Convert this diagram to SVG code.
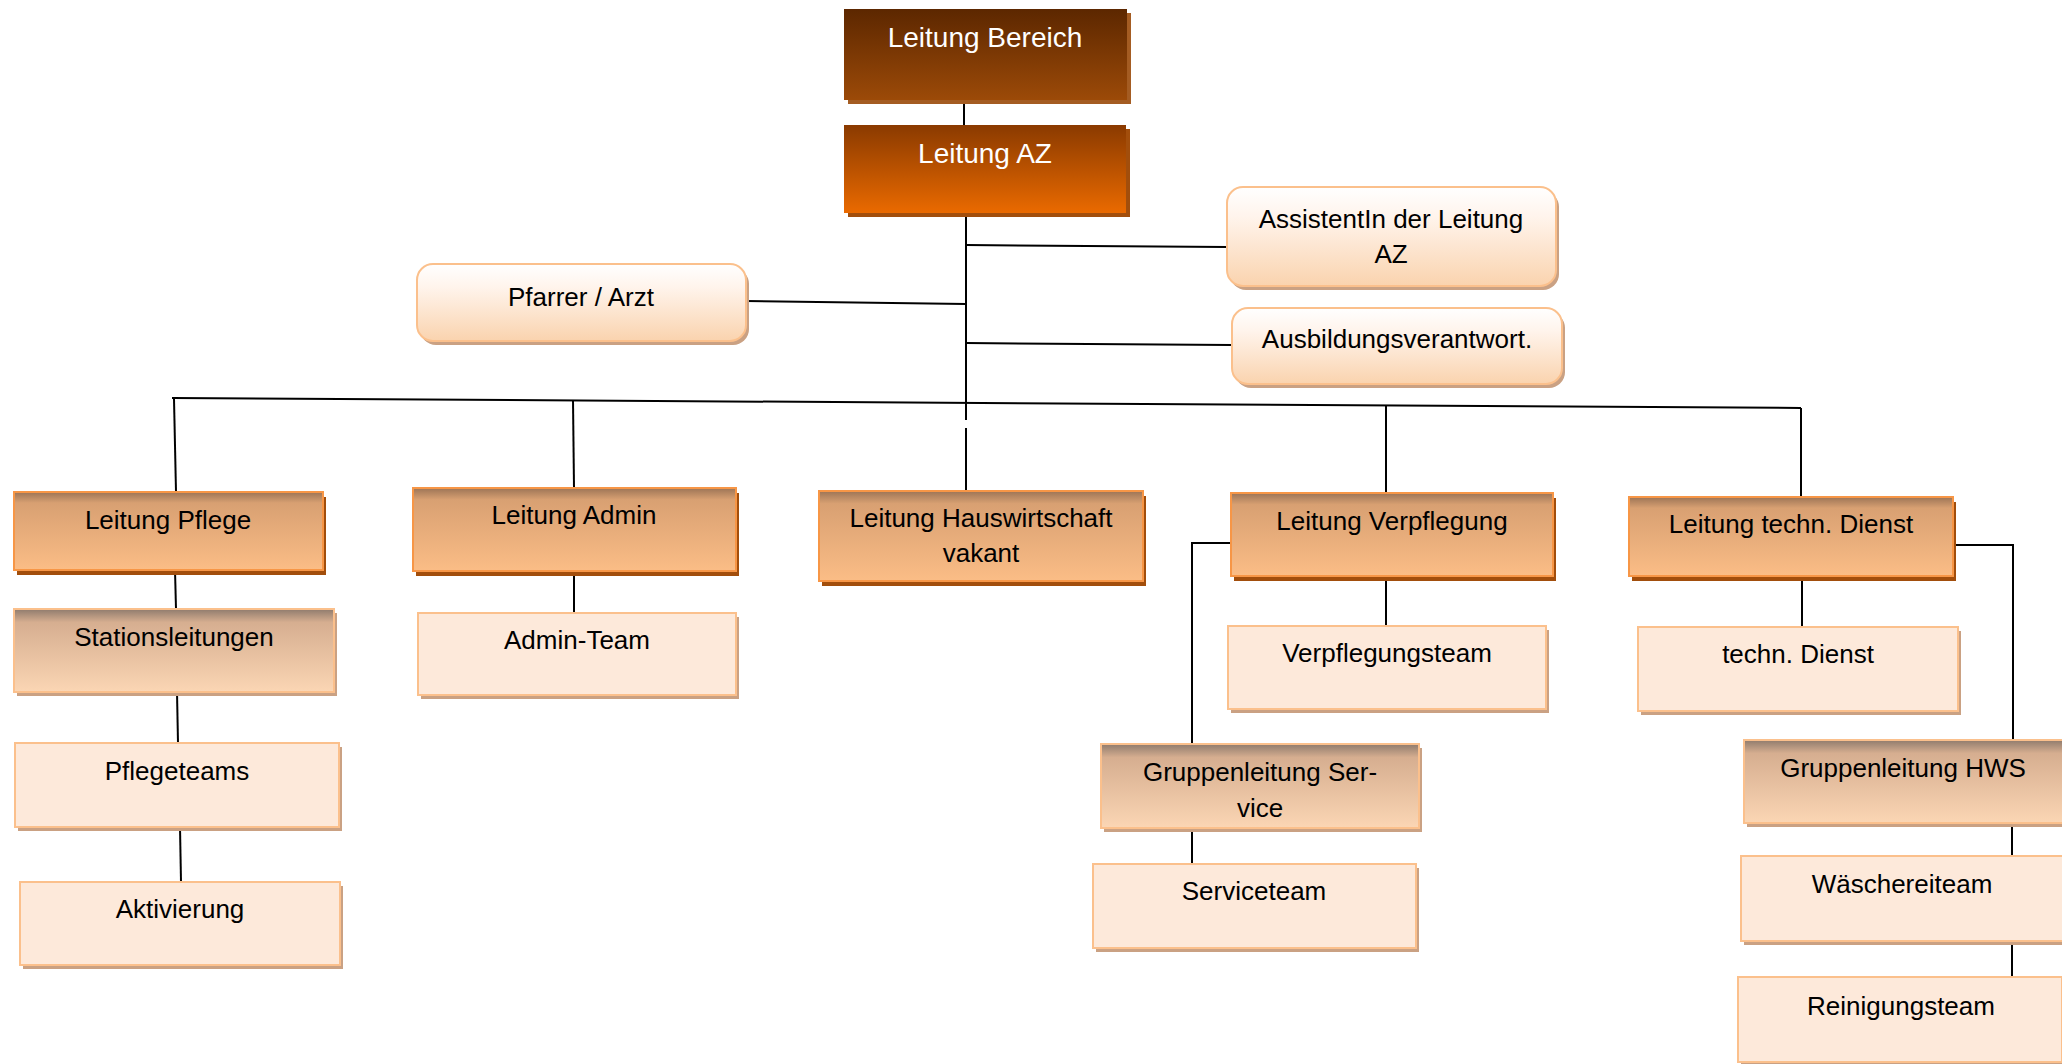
<svg xmlns="http://www.w3.org/2000/svg" width="2062" height="1064" viewBox="0 0 2062 1064">
<defs>
<linearGradient id="gTop1" x1="0" y1="0" x2="0" y2="1"><stop offset="0" stop-color="#5c2700"/><stop offset="1" stop-color="#9c4a08"/></linearGradient>
<linearGradient id="gTop2" x1="0" y1="0" x2="0" y2="1"><stop offset="0" stop-color="#8a3a00"/><stop offset="1" stop-color="#ea6a00"/></linearGradient>
<linearGradient id="gL2" x1="0" y1="0" x2="0" y2="1"><stop offset="0" stop-color="#9c7456"/><stop offset="0.14" stop-color="#d8a072"/><stop offset="1" stop-color="#fbbd86"/></linearGradient>
<linearGradient id="gL3" x1="0" y1="0" x2="0" y2="1"><stop offset="0" stop-color="#8f7b6d"/><stop offset="0.16" stop-color="#d6ae90"/><stop offset="1" stop-color="#fbd6b4"/></linearGradient>
<linearGradient id="gRnd" x1="0" y1="0" x2="0" y2="1"><stop offset="0" stop-color="#ffffff"/><stop offset="0.3" stop-color="#fff4ec"/><stop offset="1" stop-color="#fad3ae"/></linearGradient>
</defs>
<style>
text{font-family:"Liberation Sans",Arial,sans-serif;font-size:26px;fill:#000;text-anchor:middle}
.tw{fill:#fff;font-size:28px}
.sh1{fill:#a45c22}
.sh2{fill:#a24e0c}
.sh3{fill:#caa183}
.top1{fill:url(#gTop1)}
.top2{fill:url(#gTop2)}
.l2{fill:url(#gL2);stroke:#f79646;stroke-width:2}
.l3{fill:url(#gL3);stroke:#fbc08c;stroke-width:2}
.lt{fill:#fde9da;stroke:#fbc08c;stroke-width:2}
.rnd{fill:url(#gRnd);stroke:#fbc08c;stroke-width:2}
.c{stroke:#000;stroke-width:2;fill:none}
</style>
<rect width="2062" height="1064" fill="#fff"/>
<g id="connectors">
<line class="c" x1="964" y1="100" x2="964" y2="125"/>
<line class="c" x1="966" y1="213" x2="966" y2="420"/>
<line class="c" x1="966" y1="428" x2="966" y2="491"/>
<line class="c" x1="966" y1="245" x2="1227" y2="247"/>
<line class="c" x1="966" y1="343" x2="1232" y2="345"/>
<line class="c" x1="746" y1="301" x2="966" y2="304"/>
<line class="c" x1="172" y1="398" x2="1801" y2="408"/>
<line class="c" x1="174" y1="399" x2="176" y2="492"/>
<line class="c" x1="573" y1="400" x2="574" y2="488"/>
<line class="c" x1="1386" y1="406" x2="1386" y2="493"/>
<line class="c" x1="1801" y1="408" x2="1801" y2="497"/>
<line class="c" x1="175" y1="570" x2="176" y2="609"/>
<line class="c" x1="177" y1="692" x2="178" y2="743"/>
<line class="c" x1="180" y1="827" x2="181" y2="882"/>
<line class="c" x1="574" y1="571" x2="574" y2="613"/>
<line class="c" x1="1386" y1="576" x2="1386" y2="626"/>
<polyline class="c" points="1231,543 1192,543 1192,744"/>
<line class="c" x1="1192" y1="828" x2="1192" y2="864"/>
<line class="c" x1="1802" y1="576" x2="1802" y2="627"/>
<polyline class="c" points="1953,545 2013,545 2013,740"/>
<line class="c" x1="2012" y1="823" x2="2012" y2="856"/>
<line class="c" x1="2012" y1="941" x2="2012" y2="977"/>
</g>
<g id="n-bereich"><rect class="sh1" x="848" y="13" width="283" height="91"/><rect class="top1" x="844" y="9" width="283" height="91"/><text class="tw" x="985" y="47">Leitung Bereich</text></g>
<g id="n-az"><rect class="sh2" x="848" y="129" width="282" height="88"/><rect class="top2" x="844" y="125" width="282" height="88"/><text class="tw" x="985" y="163">Leitung AZ</text></g>
<g id="n-assist"><rect class="sh3" x="1230" y="191" width="329" height="99" rx="16"/><rect class="rnd" x="1227" y="187" width="329" height="99" rx="16"/><text x="1391" y="228">AssistentIn der Leitung</text><text x="1391" y="263">AZ</text></g>
<g id="n-ausbildung"><rect class="sh3" x="1235" y="312" width="330" height="76" rx="16"/><rect class="rnd" x="1232" y="308" width="330" height="76" rx="16"/><text x="1397" y="348">Ausbildungsverantwort.</text></g>
<g id="n-pfarrer"><rect class="sh3" x="420" y="268" width="329" height="77" rx="16"/><rect class="rnd" x="417" y="264" width="329" height="77" rx="16"/><text x="581" y="306">Pfarrer / Arzt</text></g>
<g id="n-pflege"><rect class="sh2" x="17" y="497" width="309" height="78"/><rect class="l2" x="14" y="492" width="309" height="78"/><text x="168" y="529">Leitung Pflege</text></g>
<g id="n-station"><rect class="sh3" x="17" y="613" width="320" height="83"/><rect class="l3" x="14" y="609" width="320" height="83"/><text x="174" y="646">Stationsleitungen</text></g>
<g id="n-pflegeteams"><rect class="sh3" x="18" y="747" width="324" height="84"/><rect class="lt" x="15" y="743" width="324" height="84"/><text x="177" y="780">Pflegeteams</text></g>
<g id="n-aktivierung"><rect class="sh3" x="23" y="886" width="320" height="83"/><rect class="lt" x="20" y="882" width="320" height="83"/><text x="180" y="918">Aktivierung</text></g>
<g id="n-admin"><rect class="sh2" x="416" y="493" width="323" height="83"/><rect class="l2" x="413" y="488" width="323" height="83"/><text x="574" y="524">Leitung Admin</text></g>
<g id="n-adminteam"><rect class="sh3" x="421" y="617" width="318" height="82"/><rect class="lt" x="418" y="613" width="318" height="82"/><text x="577" y="649">Admin-Team</text></g>
<g id="n-hausw"><rect class="sh2" x="822" y="496" width="324" height="90"/><rect class="l2" x="819" y="491" width="324" height="90"/><text x="981" y="527">Leitung Hauswirtschaft</text><text x="981" y="562">vakant</text></g>
<g id="n-verpfl"><rect class="sh2" x="1234" y="498" width="322" height="83"/><rect class="l2" x="1231" y="493" width="322" height="83"/><text x="1392" y="530">Leitung Verpflegung</text></g>
<g id="n-verpflteam"><rect class="sh3" x="1231" y="630" width="318" height="83"/><rect class="lt" x="1228" y="626" width="318" height="83"/><text x="1387" y="662">Verpflegungsteam</text></g>
<g id="n-grservice"><rect class="sh3" x="1104" y="748" width="318" height="84"/><rect class="l3" x="1101" y="744" width="318" height="84"/><text x="1260" y="781">Gruppenleitung Ser-</text><text x="1260" y="817">vice</text></g>
<g id="n-serviceteam"><rect class="sh3" x="1096" y="868" width="323" height="84"/><rect class="lt" x="1093" y="864" width="323" height="84"/><text x="1254" y="900">Serviceteam</text></g>
<g id="n-techn"><rect class="sh2" x="1632" y="502" width="324" height="79"/><rect class="l2" x="1629" y="497" width="324" height="79"/><text x="1791" y="533">Leitung techn. Dienst</text></g>
<g id="n-technd"><rect class="sh3" x="1641" y="631" width="320" height="84"/><rect class="lt" x="1638" y="627" width="320" height="84"/><text x="1798" y="663">techn. Dienst</text></g>
<g id="n-hws"><rect class="sh3" x="1747" y="744" width="322" height="83"/><rect class="l3" x="1744" y="740" width="322" height="83"/><text x="1903" y="777">Gruppenleitung HWS</text></g>
<g id="n-waesche"><rect class="sh3" x="1744" y="860" width="322" height="85"/><rect class="lt" x="1741" y="856" width="322" height="85"/><text x="1902" y="893">Wäschereiteam</text></g>
<g id="n-reinigung"><rect class="sh3" x="1741" y="981" width="324" height="85"/><rect class="lt" x="1738" y="977" width="324" height="85"/><text x="1901" y="1015">Reinigungsteam</text></g>
</svg>
